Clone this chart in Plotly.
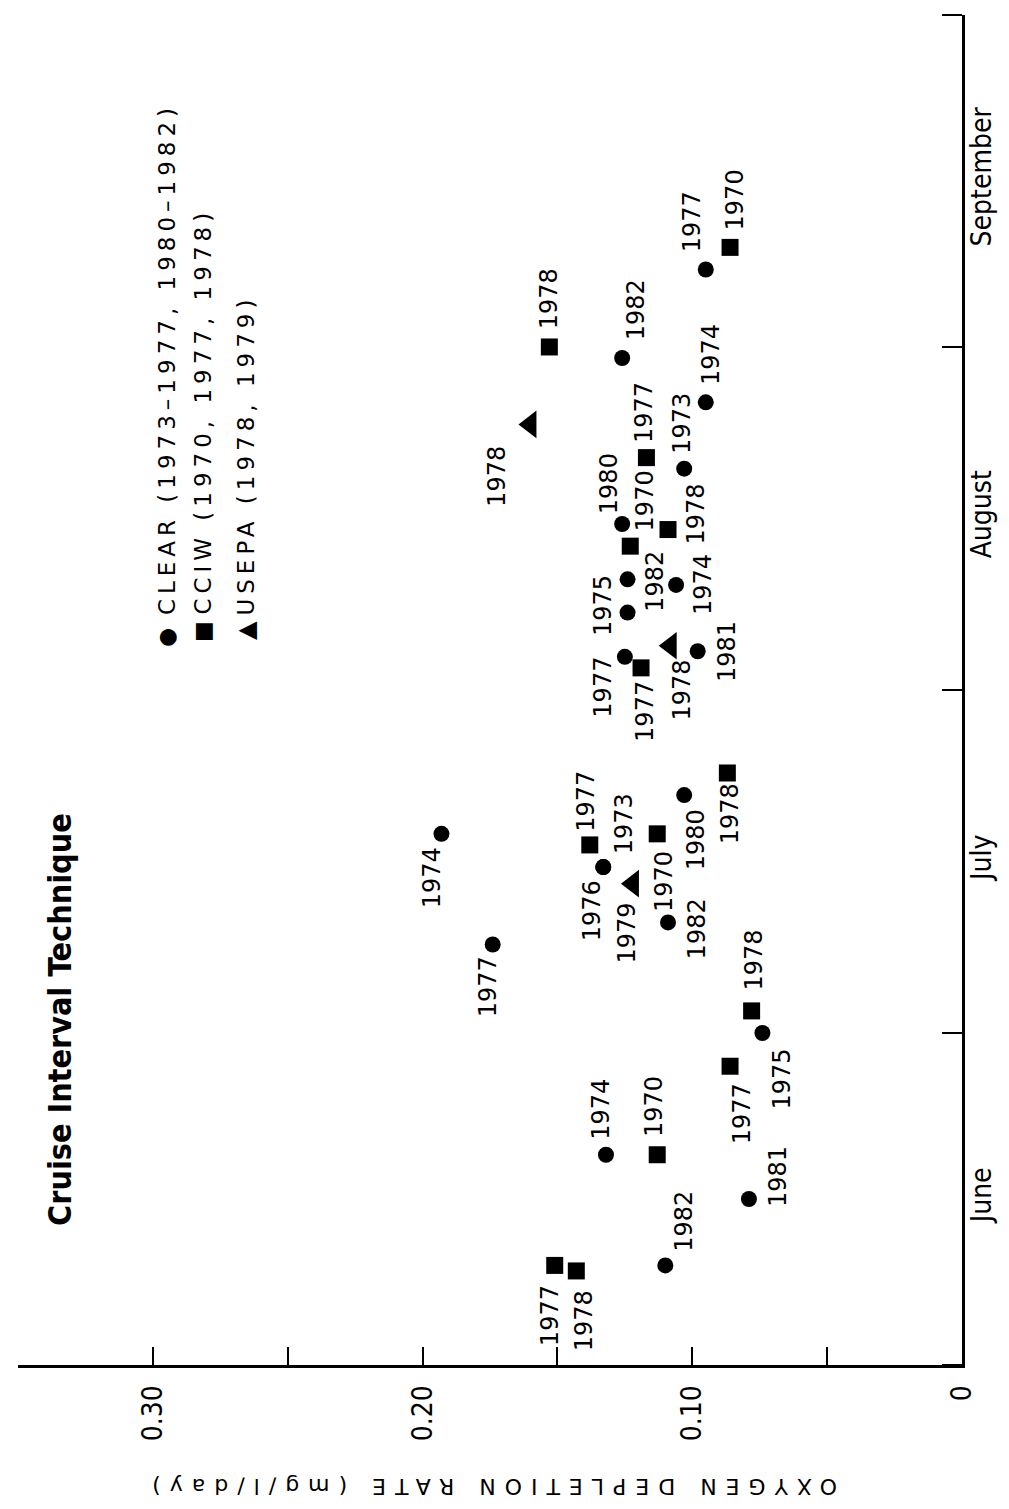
import plotly.graph_objects as go

# ---------------- data ----------------
clear_years = [1982, 1974, 1981, 1975, 1977, 1974, 1976, 1973, 1982, 1980,
               1977, 1975, 1982, 1974, 1981, 1980, 1973, 1974, 1982, 1977]
clear_dates = ["2000-06-10", "2000-06-20", "2000-06-16", "2000-07-01", "2000-07-09",
               "2000-07-19", "2000-07-16", "2000-07-16", "2000-07-11", "2000-07-22 12:00",
               "2000-08-04", "2000-08-08", "2000-08-11", "2000-08-10 12:00", "2000-08-04 12:00",
               "2000-08-16", "2000-08-21", "2000-08-27", "2000-08-31", "2000-09-08"]
clear_rates = [0.110, 0.132, 0.079, 0.074, 0.174, 0.193, 0.133, 0.133, 0.109, 0.103,
               0.125, 0.124, 0.124, 0.106, 0.098, 0.126, 0.103, 0.095, 0.126, 0.095]

ccis_years = [1977, 1978, 1970, 1977, 1978, 1977, 1970, 1978, 1977, 1970, 1978, 1977, 1978, 1970]
ccis_dates = ["2000-06-10", "2000-06-09 12:00", "2000-06-20", "2000-06-28", "2000-07-03",
              "2000-07-18", "2000-07-19", "2000-07-24 12:00", "2000-08-03", "2000-08-14",
              "2000-08-15 12:00", "2000-08-22", "2000-09-01", "2000-09-10"]
ccis_rates = [0.151, 0.143, 0.113, 0.086, 0.078, 0.138, 0.113, 0.087, 0.119, 0.123,
              0.109, 0.117, 0.153, 0.086]

usepa_years = [1979, 1978, 1978]
usepa_dates = ["2000-07-14 12:00", "2000-08-05", "2000-08-25"]
usepa_rates = [0.122, 0.108, 0.160]

season_range = ["2000-06-01", "2000-10-01"]
rate_tickvals = [0, 0.05, 0.10, 0.15, 0.20, 0.25, 0.30, 0.35]
rate_ticktext = ["0", "", "0.10", "", "0.20", "", "0.30", ""]

legend_texts = ["CLEAR (1973\u20131977, 1980\u20131982)",
                "CCIW (1970, 1977, 1978)",
                "USEPA (1978, 1979)"]
title_text = "Cruise Interval Technique"
axis_title = "OXYGEN DEPLETION RATE (mg/l/day)"

# ---------------- label placement (pixels: dx right, dy down) ----------------
clear_offsets = [(19, -44), (-5, -46), (29, -23), (20, 46), (-5, 42), (-10, 44), (-11, 44),
                 (21, -43), (29, 7), (12, 45), (-22, 30), (-25, -7), (28, 2), (27, 0),
                 (30, 0), (-13, -40), (-3, -45), (6, -48), (14, -48), (-14, -48)]
ccis_offsets = [(-4, 50), (8, 50), (-3, -48), (12, 48), (2, -51), (-4, -44), (7, 48),
                (3, 41), (4, 44), (15, -45), (28, -15), (-3, -45), (0, -48), (5, -47)]
usepa_offsets = [(-6, 49), (11, 44), (-33, 52)]

LABEL_FONT = dict(family="DejaVu Sans, Liberation Sans, sans-serif", size=24, color="black")
NARROW = "Liberation Sans Narrow, DejaVu Sans Condensed, Liberation Sans, sans-serif"

fig = go.Figure()
fig.add_trace(go.Scatter(x=clear_rates, y=clear_dates, mode="markers", name="CLEAR",
                         marker=dict(symbol="circle", size=16, color="black")))
fig.add_trace(go.Scatter(x=ccis_rates, y=ccis_dates, mode="markers", name="CCIW",
                         marker=dict(symbol="square", size=17, color="black")))
fig.add_trace(go.Scatter(x=usepa_rates, y=usepa_dates, mode="markers", name="USEPA",
                         marker=dict(symbol="triangle-left", size=24, color="black")))

for years, rates, dates, offs in [(clear_years, clear_rates, clear_dates, clear_offsets),
                                  (ccis_years, ccis_rates, ccis_dates, ccis_offsets),
                                  (usepa_years, usepa_rates, usepa_dates, usepa_offsets)]:
    for yr, r, d, (dx, dy) in zip(years, rates, dates, offs):
        fig.add_annotation(x=r, y=d, text=str(yr), showarrow=False, textangle=-90,
                           xanchor="center", yanchor="middle",
                           xshift=dx, yshift=-dy, font=LABEL_FONT)

# legend (rotated, drawn as annotations)
legend_glyphs = ["\u25CF", "\u25A0", "\u25B2"]
legend_glyph_size = [22, 22, 24]
legend_x = [0.1578, 0.196, 0.2415]
legend_glyph_y = [0.5393, 0.543, 0.5444]
for g, gs, t, lx, gy in zip(legend_glyphs, legend_glyph_size, legend_texts, legend_x, legend_glyph_y):
    fig.add_annotation(xref="paper", yref="paper", x=lx, y=gy, text=g, showarrow=False,
                       textangle=-90, xanchor="center", yanchor="middle",
                       font=dict(family="DejaVu Sans", size=gs, color="black"))
    fig.add_annotation(xref="paper", yref="paper", x=lx, y=0.554,
                       text='<span style="letter-spacing:5px">' + t + '</span>',
                       showarrow=False, textangle=-90, xanchor="center", yanchor="bottom",
                       font=dict(family="DejaVu Sans", size=23, color="black"))

# title
fig.add_annotation(xref="paper", yref="paper", x=0.0445, y=0.2556,
                   text="<b>" + title_text + "</b>", showarrow=False, textangle=-90,
                   xanchor="center", yanchor="middle",
                   font=dict(family=NARROW, size=32, color="black"))

# axis title (upside down as in the scan)
fig.add_annotation(xref="paper", yref="paper", x=0.500, y=-0.0905,
                   text='<span style="letter-spacing:9px">' + axis_title + '</span>',
                   showarrow=False, textangle=180, xanchor="center", yanchor="middle",
                   font=dict(family="DejaVu Sans", size=22, color="black"))

fig.update_layout(width=993, height=1493, autosize=False,
                  margin=dict(l=10, r=39, t=7, b=136, autoexpand=False),
                  plot_bgcolor="white", paper_bgcolor="white", showlegend=False)

fig.update_xaxes(range=[0.35, 0], tickmode="array", tickvals=rate_tickvals,
                 ticktext=rate_ticktext, ticks="inside", ticklen=18, tickwidth=2,
                 tickcolor="black", showline=True, linewidth=3, linecolor="black",
                 showgrid=False, zeroline=False, tickangle=-90, ticklabelstandoff=6,
                 automargin=False,
                 tickfont=dict(family=NARROW, size=28, color="black"))

fig.update_yaxes(type="date", range=season_range, dtick="M1", tick0="2000-06-01",
                 ticklabelmode="period", tickformat="%B", side="right",
                 ticks="inside", ticklen=20, tickwidth=2, tickcolor="black",
                 showline=True, linewidth=2.5, linecolor="black",
                 showgrid=False, zeroline=False, tickangle=-90, ticklabelstandoff=-7,
                 automargin=False,
                 tickfont=dict(family=NARROW, size=28, color="black"))

fig.write_html("out.html")
